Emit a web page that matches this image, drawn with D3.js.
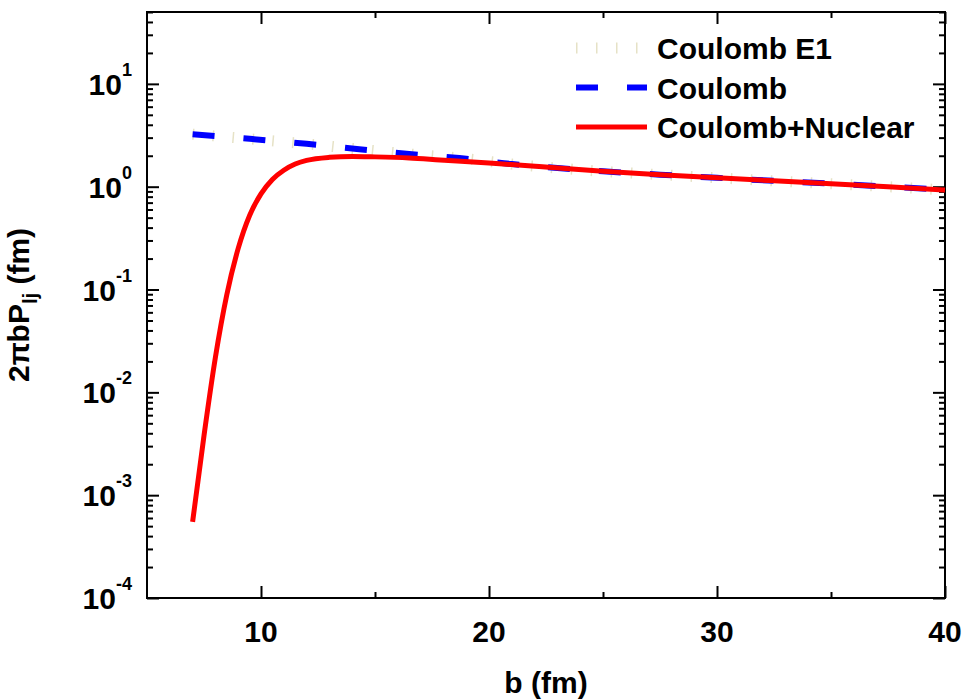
<!DOCTYPE html>
<html>
<head>
<meta charset="utf-8">
<script src="https://cdn.jsdelivr.net/npm/d3@7"></script>
<style>
  body { margin: 0; background: #fff; }
  text { font-family: "Liberation Sans", Arial, sans-serif; font-weight: bold; }
</style>
</head>
<body>
<svg id="chart"></svg>
<script>
// impact parameter b (fm)
const bCoulomb = [7, 9.5, 12, 14.2, 16.5, 18.7, 21, 22.5, 25, 27.5, 30, 32.5, 35, 37.5, 40];
// Coulomb and Coulomb E1 curves (they overlap)
const coulomb =   [3.24, 2.92, 2.61, 2.33, 2.08, 1.90, 1.66, 1.55, 1.41, 1.31, 1.22, 1.14, 1.07, 1.00, 0.93];
const coulombE1 = [3.24, 2.92, 2.61, 2.33, 2.08, 1.90, 1.66, 1.55, 1.41, 1.31, 1.22, 1.14, 1.07, 1.00, 0.93];

const bNuclear = [7, 7.5, 8, 8.5, 9, 9.5, 10, 10.5, 11, 11.5, 12, 13, 14, 15, 16.5, 17.85, 20, 22.2, 25, 27.5, 30, 32.5, 35, 37.5, 40];
const coulombNuclear = [5.5e-4, 3.8e-3, 0.0219, 0.089, 0.251, 0.525, 0.851, 1.175, 1.445, 1.66, 1.80, 1.93, 1.97, 1.95, 1.90, 1.82, 1.70, 1.57, 1.41, 1.31, 1.22, 1.14, 1.07, 1.00, 0.93];

const xTicks = [10, 20, 30, 40];
const xMinor = [15, 25, 35];
const yExponents = [-4, -3, -2, -1, 0, 1];
const legendLabels = ["Coulomb E1", "Coulomb", "Coulomb+Nuclear"];

document.addEventListener('DOMContentLoaded', () => {
    const W = 968, H = 700;
    const margin = { top: 12, right: 23, bottom: 102, left: 147 };
    const width = W - margin.left - margin.right;
    const height = H - margin.top - margin.bottom;

    const root = d3.select("#chart").attr("width", W).attr("height", H);
    const svg = root.append("g")
        .attr("transform", `translate(${margin.left},${margin.top})`);

    const x = d3.scaleLinear().domain([5, 40]).range([0, width]);
    const y = d3.scaleLog().domain([1e-4, 50]).range([height, 0]);

    // minor log ticks 2..9 in every decade
    const yMinor = [];
    for (let e = -4; e <= 1; e++) {
        for (let m = 2; m <= 9; m++) {
            const v = m * Math.pow(10, e);
            if (v <= 50) yMinor.push(v);
        }
    }
    const yMajor = yExponents.map(e => Math.pow(10, e));

    function styleAxis(g) {
        g.select(".domain").remove();
        g.selectAll(".tick line").attr("stroke", "#000").attr("stroke-width", 2);
        g.selectAll(".tick text").remove();
    }

    // ticks, pointing inward on all four sides
    svg.append("g").call(d3.axisLeft(y).tickValues(yMajor).tickSize(-12)).call(styleAxis);
    svg.append("g").call(d3.axisLeft(y).tickValues(yMinor).tickSize(-6)).call(styleAxis);
    svg.append("g").attr("transform", `translate(${width},0)`)
        .call(d3.axisRight(y).tickValues(yMajor).tickSize(-12)).call(styleAxis);
    svg.append("g").attr("transform", `translate(${width},0)`)
        .call(d3.axisRight(y).tickValues(yMinor).tickSize(-6)).call(styleAxis);
    svg.append("g").attr("transform", `translate(0,${height})`)
        .call(d3.axisBottom(x).tickValues(xTicks).tickSize(-12)).call(styleAxis);
    svg.append("g").attr("transform", `translate(0,${height})`)
        .call(d3.axisBottom(x).tickValues(xMinor).tickSize(-6)).call(styleAxis);
    svg.append("g")
        .call(d3.axisTop(x).tickValues(xTicks).tickSize(-12)).call(styleAxis);
    svg.append("g")
        .call(d3.axisTop(x).tickValues(xMinor).tickSize(-6)).call(styleAxis);

    // frame
    svg.append("rect")
        .attr("width", width).attr("height", height)
        .attr("fill", "none").attr("stroke", "#000").attr("stroke-width", 2);

    // y tick labels as 10^n
    const yl = svg.append("g");
    yExponents.forEach(e => {
        const t = yl.append("text")
            .attr("x", -15)
            .attr("y", y(Math.pow(10, e)) + 11)
            .attr("text-anchor", "end")
            .style("font-size", "30px");
        t.append("tspan").text("10");
        t.append("tspan").attr("dy", -19).style("font-size", "18px").text(String(e));
    });

    // x tick labels
    svg.append("g").selectAll("text")
        .data(xTicks)
        .join("text")
        .attr("x", d => x(d))
        .attr("y", height + 44)
        .attr("text-anchor", "middle")
        .style("font-size", "30px")
        .text(d => d);

    // axis titles
    svg.append("text")
        .attr("x", width / 2)
        .attr("y", height + 95)
        .attr("text-anchor", "middle")
        .style("font-size", "30px")
        .text("b (fm)");

    const yt = svg.append("text")
        .attr("transform", "rotate(-90)")
        .attr("x", -height / 2)
        .attr("y", -118)
        .attr("text-anchor", "middle")
        .style("font-size", "30px");
    yt.append("tspan").text("2πbP");
    yt.append("tspan").attr("dy", 8).style("font-size", "20px").text("lj");
    yt.append("tspan").attr("dy", -8).text(" (fm)");

    const line = d3.line()
        .curve(d3.curveMonotoneX)
        .x(d => x(d[0]))
        .y(d => y(d[1]));

    const e1Style = { color: "#e6e2c6", width: 11, dash: "1.5,18.5" };
    const cStyle = { color: "#0000ff", width: 6, dash: "22,29" };
    const nStyle = { color: "#ff0000", width: 5, dash: null };

    const plot = svg.append("g");
    plot.append("path")
        .datum(d3.zip(bCoulomb, coulombE1))
        .attr("fill", "none")
        .attr("stroke", e1Style.color)
        .attr("stroke-width", e1Style.width)
        .attr("stroke-dasharray", e1Style.dash)
        .attr("d", line);
    plot.append("path")
        .datum(d3.zip(bCoulomb, coulomb))
        .attr("fill", "none")
        .attr("stroke", cStyle.color)
        .attr("stroke-width", cStyle.width)
        .attr("stroke-dasharray", cStyle.dash)
        .attr("d", line);
    plot.append("path")
        .datum(d3.zip(bNuclear, coulombNuclear))
        .attr("fill", "none")
        .attr("stroke", nStyle.color)
        .attr("stroke-width", nStyle.width)
        .attr("stroke-linejoin", "round")
        .attr("d", line);

    // legend
    const styles = [e1Style, cStyle, nStyle];
    const legend = svg.append("g").attr("transform", "translate(429,36)");
    legendLabels.forEach((label, i) => {
        const s = styles[i];
        const row = legend.append("g").attr("transform", `translate(0,${i * 39.5})`);
        row.append("line")
            .attr("x1", 0).attr("x2", 71)
            .attr("stroke", s.color)
            .attr("stroke-width", s.width)
            .attr("stroke-dasharray", s.dash);
        row.append("text")
            .attr("x", 81)
            .attr("y", 11)
            .style("font-size", "30px")
            .text(label);
    });
});
</script>
</body>
</html>
